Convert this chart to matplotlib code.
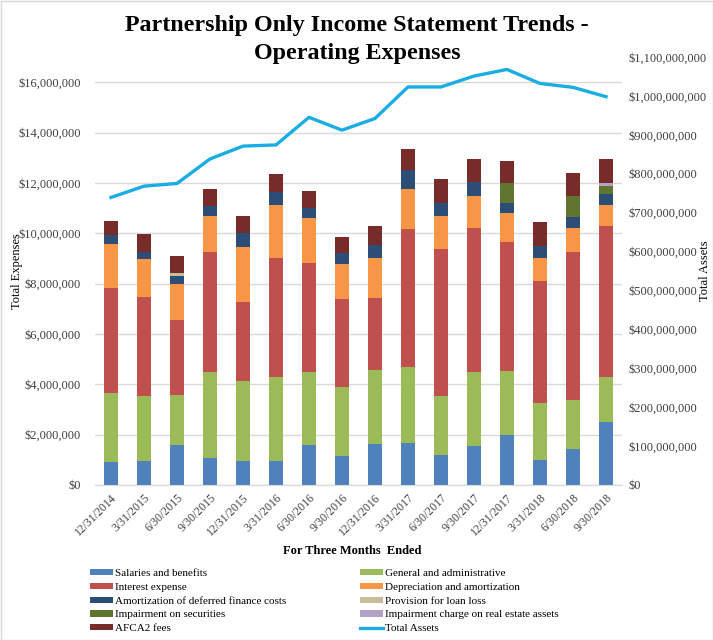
import matplotlib
matplotlib.use("Agg")
import matplotlib.pyplot as plt
import numpy as np
from matplotlib.ticker import FuncFormatter, MultipleLocator
from matplotlib.patches import Rectangle

plt.rcParams['font.family'] = ['Liberation Serif', 'DejaVu Serif']

categories = ["12/31/2014", "3/31/2015", "6/30/2015", "9/30/2015", "12/31/2015",
              "3/31/2016", "6/30/2016", "9/30/2016", "12/31/2016", "3/31/2017",
              "6/30/2017", "9/30/2017", "12/31/2017", "3/31/2018", "6/30/2018",
              "9/30/2018"]

# expense values in millions of dollars
salaries = [0.92, 0.955, 1.59, 1.09, 0.955, 0.955, 1.59, 1.15, 1.63, 1.67, 1.19, 1.55, 1.99, 1.00, 1.43, 2.51]
general_admin = [2.74, 2.585, 1.99, 3.41, 3.185, 3.315, 2.91, 2.75, 2.95, 3.03, 2.35, 2.95, 2.55, 2.26, 1.95, 1.79]
interest = [4.18, 3.94, 2.99, 4.77, 3.14, 4.73, 4.30, 3.50, 2.86, 5.45, 5.85, 5.69, 5.13, 4.86, 5.89, 5.97]
depreciation = [1.75, 1.48, 1.42, 1.40, 2.19, 2.14, 1.79, 1.36, 1.59, 1.59, 1.28, 1.27, 1.12, 0.91, 0.92, 0.87]
amort_dfc = [0.35, 0.31, 0.33, 0.43, 0.55, 0.51, 0.40, 0.45, 0.52, 0.76, 0.55, 0.56, 0.43, 0.48, 0.44, 0.40]
provision = [0, 0, 0.10, 0, 0, 0, 0, 0, 0, 0, 0, 0, 0, 0, 0, 0]
impair_sec = [0, 0, 0, 0, 0, 0, 0, 0, 0, 0, 0, 0, 0.76, 0, 0.83, 0.32]
impair_re = [0, 0, 0, 0, 0, 0, 0, 0, 0, 0, 0, 0, 0, 0, 0, 0.12]
afca2 = [0.53, 0.68, 0.69, 0.64, 0.65, 0.69, 0.67, 0.66, 0.72, 0.83, 0.92, 0.92, 0.88, 0.92, 0.92, 0.96]

# total assets in billions of dollars
total_assets = [0.739, 0.768, 0.775, 0.838, 0.871, 0.874, 0.945, 0.912, 0.942, 1.023,
                1.023, 1.051, 1.068, 1.032, 1.022, 0.998]

series = [
    ("Salaries and benefits", salaries, "#4F81BD"),
    ("General and administrative", general_admin, "#9BBB59"),
    ("Interest expense", interest, "#C0504D"),
    ("Depreciation and amortization", depreciation, "#F79646"),
    ("Amortization of deferred finance costs", amort_dfc, "#2C4D75"),
    ("Provision for loan loss", provision, "#C4BD97"),
    ("Impairment on securities", impair_sec, "#5F7530"),
    ("Impairment charge on real estate assets", impair_re, "#B3A2C7"),
    ("AFCA2 fees", afca2, "#772C2A"),
]

fig = plt.figure(figsize=(7.13, 6.4), dpi=100)
ax = fig.add_axes([95/713, 1-485/640, (622-95)/713, (485-57)/640])
ax2 = ax.twinx()

x = np.arange(len(categories))
bottom = np.zeros(len(categories))
handles = {}
for name, vals, color in series:
    v = np.array(vals) * 1e6
    h = ax.bar(x, v, width=0.42, bottom=bottom, color=color, label=name, zorder=3)
    handles[name] = h
    bottom += v

line, = ax2.plot(x, np.array(total_assets) * 1e9, color="#1AADE3", lw=2.4,
                 label="Total Assets", zorder=4)
handles["Total Assets"] = line

ax.set_xlim(-0.485, len(categories) - 0.515)
ax.set_ylim(0, 17e6)
ax2.set_ylim(0, 1.1e9)
ax.yaxis.set_major_locator(MultipleLocator(2e6))
ax2.yaxis.set_major_locator(MultipleLocator(1e8))
fmt = FuncFormatter(lambda v, p: "${:,.0f}".format(v))
ax.yaxis.set_major_formatter(fmt)
ax2.yaxis.set_major_formatter(fmt)

ax.grid(axis='y', color='#D9D9D9', lw=1, zorder=0)
ax.set_axisbelow(True)
for a in (ax, ax2):
    for s in ('top', 'left', 'right'):
        a.spines[s].set_visible(False)
    a.spines['bottom'].set_color('#D9D9D9')
    a.tick_params(axis='both', length=0, labelsize=9, colors='#404040')

ax.set_xticks(x)
ax.set_xticklabels(categories, rotation=45, ha='right', rotation_mode='anchor')
ax.tick_params(axis='x', pad=5, labelsize=8.5)
ax.tick_params(axis='y', pad=10)
ax2.tick_params(axis='y', pad=4.5)

ax.set_ylabel("Total Expenses", fontsize=9, labelpad=-3)
ax2.set_ylabel("Total Assets", fontsize=9, labelpad=-5)
fig.text(352/713, 1 - 551/640, "For Three Months  Ended",
         ha='center', va='center', fontsize=9, fontweight='bold')

fig.text(357/713, 1 - 25/640, "Partnership Only Income Statement Trends -",
         ha='center', va='center', fontsize=17.3, fontweight='bold')
fig.text(357/713, 1 - 53/640, "Operating Expenses",
         ha='center', va='center', fontsize=17.3, fontweight='bold')

col1 = ["Salaries and benefits", "Interest expense", "Amortization of deferred finance costs",
        "Impairment on securities", "AFCA2 fees"]
col2 = ["General and administrative", "Depreciation and amortization",
        "Provision for loan loss", "Impairment charge on real estate assets", "Total Assets"]
leg_kw = dict(loc='upper left', frameon=False, fontsize=8, handlelength=2.1,
              handleheight=0.5, handletextpad=0.15, labelspacing=0.42,
              borderaxespad=0, borderpad=0)
fig.legend([handles[n] for n in col1], col1, bbox_to_anchor=(90/713, 1 - 569/640), **leg_kw)
fig.legend([handles[n] for n in col2], col2, bbox_to_anchor=(360/713, 1 - 569/640), **leg_kw)

fig.patches.append(Rectangle((0.5/713, 0.5/640), 1 - 1/713, 1 - 1/640,
                             transform=fig.transFigure, fill=False,
                             edgecolor='#D9D9D9', lw=1))

fig.savefig("out.png", dpi=100)
